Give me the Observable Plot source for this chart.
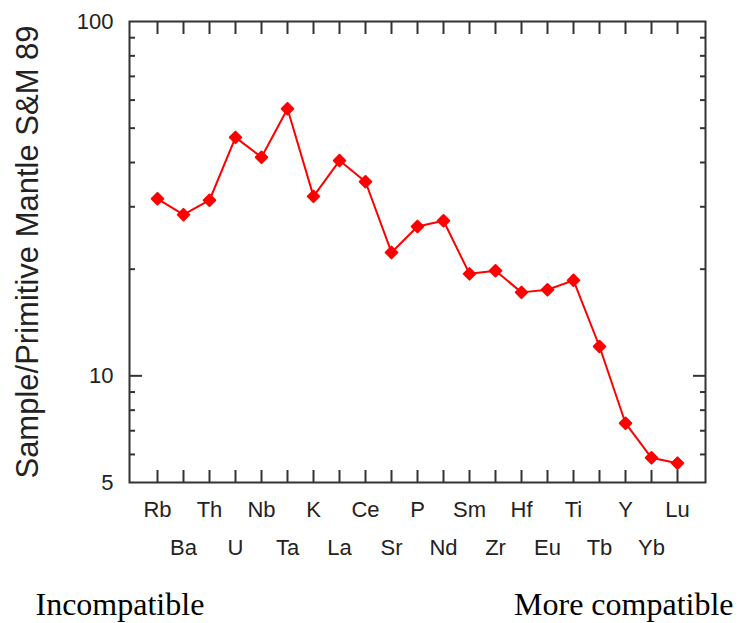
<!DOCTYPE html>
<html>
<head>
<meta charset="utf-8">
<script src="https://cdn.jsdelivr.net/npm/d3@7"></script>
<script src="https://cdn.jsdelivr.net/npm/@observablehq/plot@0.6"></script>
<style>
  html, body { margin: 0; padding: 0; background: #fff; }
  #chart svg { display: block; overflow: visible; }
</style>
</head>
<body>
<div id="chart"></div>
<script>
const elements = ["Rb","Ba","Th","U","Nb","Ta","K","La","Ce","Sr","P","Nd","Sm","Zr","Hf","Eu","Ti","Tb","Y","Yb","Lu"];
const values = [31.6, 28.5, 31.3, 47.1, 41.4, 56.7, 32.1, 40.5, 35.3, 22.3, 26.4, 27.4, 19.4, 19.8, 17.2, 17.5, 18.6, 12.1, 7.35, 5.87, 5.67];
const yLabelTicks = [5, 10, 100];
const yMajorInner = [10];
const yMinorTicks = [6, 7, 8, 9, 20, 30, 40, 50, 60, 70, 80, 90];
const yTitle = "Sample/Primitive Mantle S&M 89";
const leftCaption = "Incompatible";
const rightCaption = "More compatible";

const data = elements.map((el, i) => ({el, v: values[i]}));
const row1 = elements.filter((d, i) => i % 2 === 0);
const row2 = elements.filter((d, i) => i % 2 === 1);

const axisColor = "#333";
const textColor = "#222";

const chart = Plot.plot({
  width: 738,
  height: 623,
  marginLeft: 129,
  marginRight: 33,
  marginTop: 21,
  marginBottom: 141,
  style: {fontFamily: "'Liberation Sans', Arial, sans-serif", color: textColor, background: "#fff"},
  x: {type: "point", domain: elements, padding: 0.96, axis: null},
  y: {type: "log", domain: [5, 100], axis: null},
  marks: [
    // x ticks inward, bottom and top
    Plot.axisX({anchor: "bottom", tickSize: -12, fill: "none", stroke: axisColor, strokeWidth: 2, label: null}),
    Plot.axisX({anchor: "top", tickSize: -12, fill: "none", stroke: axisColor, strokeWidth: 2, label: null}),
    // x labels in two rows
    Plot.axisX(row1, {anchor: "bottom", tickSize: 0, tickPadding: 19, fontSize: 22, fill: textColor, label: null}),
    Plot.axisX(row2, {anchor: "bottom", tickSize: 0, tickPadding: 57, fontSize: 22, fill: textColor, label: null}),
    // y ticks inward, left and right
    Plot.axisY(yMinorTicks, {anchor: "left", tickSize: -6, fill: "none", stroke: axisColor, strokeWidth: 2, label: null}),
    Plot.axisY(yMinorTicks, {anchor: "right", tickSize: -6, fill: "none", stroke: axisColor, strokeWidth: 2, label: null}),
    Plot.axisY(yMajorInner, {anchor: "left", tickSize: -13, fill: "none", stroke: axisColor, strokeWidth: 2, label: null}),
    Plot.axisY(yMajorInner, {anchor: "right", tickSize: -13, fill: "none", stroke: axisColor, strokeWidth: 2, label: null}),
    // y labels
    Plot.axisY(yLabelTicks, {anchor: "left", tickSize: 0, tickPadding: 16, fontSize: 22, fill: textColor, tickFormat: d => String(d), label: null}),
    Plot.frame({stroke: axisColor, strokeWidth: 2}),
    Plot.line(data, {x: "el", y: "v", stroke: "#ff0000", strokeWidth: 2}),
    Plot.dot(data, {x: "el", y: "v", symbol: "diamond2", r: 5.2, fill: "#ff0000", stroke: "#ff0000", strokeWidth: 2, strokeLinejoin: "round"}),
    // y title
    Plot.text([yTitle], {frameAnchor: "left", textAnchor: "middle", rotate: -90, dx: -101, fontSize: 31, fill: textColor}),
    // captions
    Plot.text([leftCaption], {frameAnchor: "bottom-left", textAnchor: "start", dx: -94, dy: 132, fontSize: 32, fill: "#000", fontFamily: "'Liberation Serif', 'Times New Roman', serif"}),
    Plot.text([rightCaption], {frameAnchor: "bottom-right", textAnchor: "end", dx: 28, dy: 132, fontSize: 32, fill: "#000", fontFamily: "'Liberation Serif', 'Times New Roman', serif"})
  ]
});
document.getElementById("chart").appendChild(chart);
</script>
</body>
</html>
